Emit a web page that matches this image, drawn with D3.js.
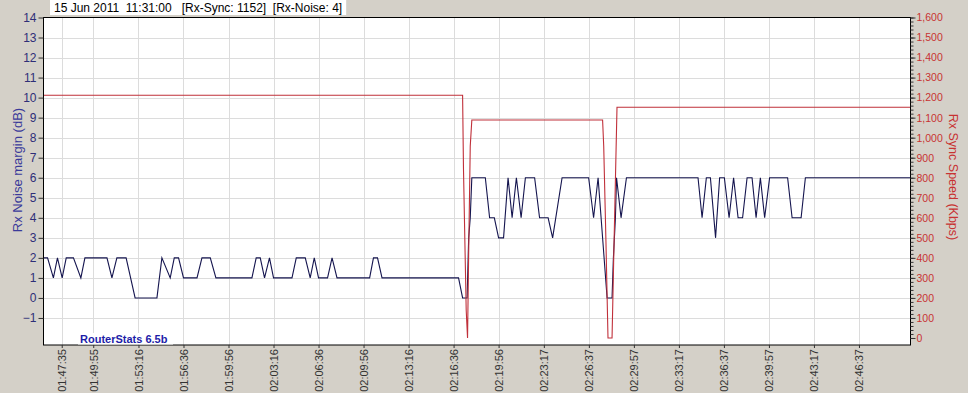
<!DOCTYPE html>
<html>
<head>
<meta charset="utf-8">
<script src="https://cdn.jsdelivr.net/npm/d3@7"></script>
<style>
  body { margin: 0; background: #d4d0c8; }
  svg { display: block; font-family: Arial, "Liberation Sans", sans-serif; }
</style>
</head>
<body>
<div id="chart"></div>
<script>
// tick labels on the time axis
const tickTimes = ["01:47:35","01:49:55","01:53:16","01:56:36","01:59:56","02:03:16","02:06:36",
  "02:09:56","02:13:16","02:16:36","02:19:56","02:23:17","02:26:37","02:29:57","02:33:17",
  "02:36:37","02:39:57","02:43:17","02:46:37"]

// Rx noise margin (dB)
const noiseTimes = ["01:46:14","01:46:32","01:46:58","01:47:16","01:47:37","01:47:55","01:48:27","01:49:00",
  "01:49:18","01:50:56","01:51:18","01:51:40","01:52:21","01:53:01","01:54:38","01:55:00","01:55:37",
  "01:55:55","01:56:14","01:56:36","01:57:36","01:57:58","01:58:35","01:59:00","02:01:40","02:01:59",
  "02:02:17","02:02:36","02:02:58","02:03:16","02:04:38","02:04:57","02:05:37","02:05:59","02:06:17",
  "02:06:36","02:07:16","02:07:36","02:07:58","02:10:23","02:10:40","02:10:58","02:11:18","02:16:58",
  "02:17:16","02:17:36","02:17:43","02:17:50","02:17:57","02:18:57","02:19:16","02:19:37","02:19:56",
  "02:20:18","02:20:38","02:20:56","02:21:15","02:21:36","02:21:55","02:22:36","02:22:58","02:23:36",
  "02:23:56","02:24:38","02:26:36","02:26:58","02:27:18","02:27:58","02:28:20","02:28:26","02:28:35",
  "02:28:40","02:29:00","02:29:24","02:34:42","02:35:00","02:35:19","02:35:37","02:36:00","02:36:18",
  "02:36:39","02:37:00","02:37:20","02:37:40","02:38:00","02:38:20","02:38:42","02:39:00","02:39:19",
  "02:39:38","02:40:00","02:41:20","02:41:40","02:42:20","02:42:39","02:50:26"]
const noiseValues = [2,2,1,2,1,2,2,1,
  2,2,1,2,2,0,0,2,1,
  2,2,1,1,2,2,1,1,2,
  2,1,2,1,1,2,2,1,2,
  1,1,2,1,1,2,2,1,1,
  0,0,3,4,6,6,4,4,3,
  3,6,4,6,4,6,6,4,4,
  3,6,6,4,6,0,0,2,4,
  6,4,6,6,4,6,6,3,6,
  6,4,6,4,4,6,6,4,6,
  4,6,6,4,4,6,6]

// Rx sync speed (Kbps)
const syncTimes = ["01:46:14","02:17:16","02:17:20","02:17:32","02:17:38","02:17:43","02:17:50","02:17:57",
  "02:27:38","02:27:43","02:27:53","02:28:02","02:28:20","02:28:27","02:28:35","02:28:42","02:50:26"]
const syncValues = [1212,1212,840,140,0,425,958,1088,
  1088,957,475,0,0,375,790,1152,1152]

const headerText = "15 Jun 2011  11:31:00   [Rx-Sync: 1152]  [Rx-Noise: 4]"

const width = 968, height = 393
const plot = {left: 43.5, right: 910.5, top: 17.5, bottom: 345}

const secs = s => { const p = s.split(":").map(Number); return p[0]*3600 + p[1]*60 + p[2] }

const svg = d3.select("#chart").append("svg")
    .attr("width", width)
    .attr("height", height)

const x = d3.scaleLinear()
    .domain([secs(noiseTimes[0]), secs(noiseTimes[noiseTimes.length-1])])
    .range([plot.left, plot.right])
const yL = d3.scaleLinear().domain([-2.35, 14]).range([plot.bottom, plot.top])
const yR = d3.scaleLinear().domain([-35, 1600]).range([plot.bottom, plot.top])

// header
let headerBox = svg.append("rect").attr("x", 50).attr("y", 0).attr("height", 15).attr("fill", "#fff")
let header = svg.append("text").attr("x", 54).attr("y", 11.5)
    .attr("font-size", 12).attr("fill", "#000")
    .style("white-space", "pre")
    .text(headerText)
headerBox.attr("width", header.node().getComputedTextLength() + 8)

// plot area
svg.append("rect")
    .attr("x", plot.left).attr("y", plot.top)
    .attr("width", plot.right - plot.left).attr("height", plot.bottom - plot.top)
    .attr("fill", "#fff")

// grid
const grid = svg.append("g").attr("stroke", "#dcdcdc").attr("stroke-width", 1)
grid.selectAll("line.h")
    .data(d3.range(-1, 14))
    .join("line")
    .attr("x1", plot.left).attr("x2", plot.right)
    .attr("y1", d => Math.round(yL(d)) + 0.5).attr("y2", d => Math.round(yL(d)) + 0.5)
grid.selectAll("line.v")
    .data(tickTimes)
    .join("line")
    .attr("y1", plot.top).attr("y2", plot.bottom)
    .attr("x1", d => Math.round(x(secs(d))) + 0.5).attr("x2", d => Math.round(x(secs(d))) + 0.5)

// lines
const noiseLine = d3.line().x((d, i) => x(secs(noiseTimes[i]))).y(d => yL(d))
const syncLine = d3.line().x((d, i) => x(secs(syncTimes[i]))).y(d => yR(d))

svg.append("path").datum(noiseValues)
    .attr("d", noiseLine).attr("fill", "none").attr("stroke", "#15154f").attr("stroke-width", 1.1)
svg.append("path").datum(syncValues)
    .attr("d", syncLine).attr("fill", "none").attr("stroke", "#c0303a").attr("stroke-width", 1.1)

// border
svg.append("rect")
    .attr("x", plot.left).attr("y", plot.top)
    .attr("width", plot.right - plot.left).attr("height", plot.bottom - plot.top)
    .attr("fill", "none").attr("stroke", "#000")

// left axis
const leftAxis = svg.append("g")
    .attr("transform", `translate(${plot.left},0)`)
    .call(d3.axisLeft(yL).tickValues(d3.range(-1, 15)).tickSize(5).tickPadding(2))
leftAxis.select(".domain").remove()
leftAxis.selectAll("line").attr("stroke", "#333")
leftAxis.selectAll("text").attr("font-size", 12).attr("fill", "#2e2e78").attr("font-family", null)

// right axis
const rightMinor = svg.append("g")
    .attr("transform", `translate(${plot.right},0)`)
    .call(d3.axisRight(yR).tickValues(d3.range(0, 1601, 20)).tickSize(3).tickFormat(""))
rightMinor.select(".domain").remove()
rightMinor.selectAll("line").attr("stroke", "#333")

const rightAxis = svg.append("g")
    .attr("transform", `translate(${plot.right},0)`)
    .call(d3.axisRight(yR).tickValues(d3.range(0, 1601, 100)).tickSize(5).tickPadding(1)
      .tickFormat(d3.format(",")))
rightAxis.select(".domain").remove()
rightAxis.selectAll("line").attr("stroke", "#333")
rightAxis.selectAll("text").attr("font-size", 10.5).attr("fill", "#c83232").attr("font-family", null)

// bottom axis
const bottomAxis = svg.append("g")
    .attr("transform", `translate(0,${plot.bottom})`)
    .call(d3.axisBottom(x).tickValues(tickTimes.map(secs)).tickSize(3)
      .tickFormat((d, i) => tickTimes[i]))
bottomAxis.select(".domain").remove()
bottomAxis.selectAll("line").attr("stroke", "#333")
bottomAxis.selectAll("text")
    .attr("font-size", 11).attr("fill", "#333").attr("font-family", null)
    .attr("y", 0).attr("x", -4).attr("dy", "0.35em")
    .attr("transform", "rotate(-90)")
    .style("text-anchor", "end")

// axis titles
svg.append("text")
    .attr("transform", "translate(22,170) rotate(-90)")
    .attr("text-anchor", "middle").attr("font-size", 13).attr("fill", "#3a3a9a")
    .text("Rx Noise margin (dB)")
svg.append("text")
    .attr("transform", "translate(949,177) rotate(90)")
    .attr("text-anchor", "middle").attr("font-size", 12.5).attr("fill", "#c83232")
    .text("Rx Sync Speed (Kbps)")

// watermark
svg.append("rect").attr("x", 78).attr("y", 333).attr("width", 95).attr("height", 11.5).attr("fill", "#fff")
svg.append("text").attr("x", 80).attr("y", 343)
    .attr("font-size", 11).attr("font-weight", "bold").attr("fill", "#1c1ca8")
    .text("RouterStats 6.5b")
</script>
</body>
</html>
